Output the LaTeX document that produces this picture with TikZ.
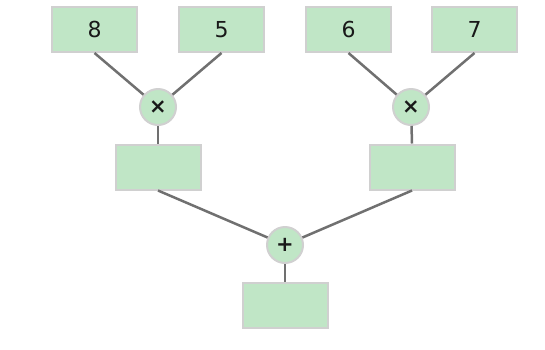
\documentclass[tikz,border=0pt]{standalone}
\usepackage{fontspec}
\setmainfont{DejaVu Sans}
\usepackage{tikz}
\definecolor{boxgreen}{RGB}{192,230,198}
\definecolor{boxedge}{RGB}{208,208,208}
\definecolor{wireink}{RGB}{112,112,112}
\definecolor{textink}{RGB}{25,25,25}
\begin{document}
\begin{tikzpicture}[x=1pt,y=-1pt,
  val/.style={rectangle,draw=boxedge,fill=boxgreen,line width=2pt,minimum width=85pt,minimum height=45pt,inner sep=0pt,text=textink,font=\fontsize{22}{26}\selectfont},
  op/.style={circle,draw=boxedge,fill=boxgreen,line width=2pt,minimum size=36pt,inner sep=0pt,text=textink,font=\fontsize{21}{25}\selectfont\bfseries},
  wire/.style={draw=wireink,line width=2.5pt}]
\useasboundingbox (0,0) rectangle (545,349);
% operandos
\node[val] (nA) at (94.5,29.5) {8};
\node[val] (nB) at (221.5,29.5) {5};
\node[val] (nC) at (348.5,29.5) {6};
\node[val] (nD) at (474.5,29.5) {7};
% operaciones
\node[op] (mL) at (158,107) {×};
\node[op] (mR) at (411,107) {×};
\node[val] (rL) at (158,167) {};
\node[val] (rR) at (412,167) {};
\node[op] (pS) at (285,245) {+};
\node[val] (rS) at (285,305) {};
\begin{scope}[on background layer/.try]
\draw[wire] (nA.south) -- (mL); \draw[wire] (nB.south) -- (mL);
\draw[wire] (nC.south) -- (mR); \draw[wire] (nD.south) -- (mR);
\draw[wire] (mL) -- (rL.north); \draw[wire] (mR) -- (rR.north);
\draw[wire] (rL.south) -- (pS); \draw[wire] (rR.south) -- (pS);
\draw[wire] (pS) -- (rS.north);
\end{scope}
\end{tikzpicture}
\end{document}
